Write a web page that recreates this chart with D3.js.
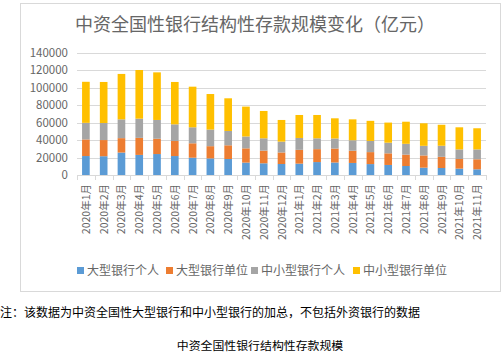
<!DOCTYPE html>
<html><head><meta charset="utf-8">
<script src="https://cdn.jsdelivr.net/npm/d3@7"></script>
<style>
body{margin:0;background:#fff;}
svg text{font-family:"Noto Sans CJK SC","Noto Sans",sans-serif;}
</style></head>
<body><svg id="c" width="504" height="356"></svg>
<script>
const categories = ["2020年1月","2020年2月","2020年3月","2020年4月","2020年5月","2020年6月","2020年7月","2020年8月","2020年9月","2020年10月","2020年11月","2020年12月","2021年1月","2021年2月","2021年3月","2021年4月","2021年5月","2021年6月","2021年7月","2021年8月","2021年9月","2021年10月","2021年11月"];
const seriesNames = ["大型银行个人","大型银行单位","中小型银行个人","中小型银行单位"];
const largePersonal = [21700,21500,25700,23000,24000,21700,19800,19000,18300,14200,13400,12600,13000,14800,14300,13800,12500,11500,10300,8400,8000,7300,6500];
const largeCorporate = [19000,18500,16500,19500,17500,17200,16500,14000,15700,16300,14500,13200,15800,14800,16000,14000,13700,13300,13000,14000,12800,11000,11500];
const smallPersonal = [19000,19500,21500,22000,21500,19100,18300,19000,16400,13600,14100,12400,13600,12400,11500,12000,12800,12200,12400,11000,12700,11000,11300];
const smallCorporate = [47000,47000,52000,55700,54500,48500,46500,40700,37400,34200,31300,24800,26300,26700,23100,23900,23000,23000,25300,25800,24000,25300,24200];
const yTicks = [0,20000,40000,60000,80000,100000,120000,140000];
const colors = ["#5B9BD5","#ED7D31","#A5A5A5","#FFC000"];

const svg = d3.select("#c");
svg.append("rect").attr("x",20.5).attr("y",3.5).attr("width",480).attr("height",288)
  .attr("fill","#fff").attr("stroke","#D9D9D9");

svg.append("text").attr("x",255).attr("y",31).attr("text-anchor","middle")
  .attr("font-size",18).attr("fill","#666").text("中资全国性银行结构性存款规模变化（亿元）");

const x = d3.scaleBand().domain(categories).range([77,486]).paddingInner(0.57).paddingOuter(0.285);
const y = d3.scaleLinear().domain([0,140000]).range([175,52.7]);

svg.append("g").selectAll("line").data(yTicks.slice(1)).join("line")
  .attr("x1",77).attr("x2",486).attr("y1",d=>Math.round(y(d))+0.5).attr("y2",d=>Math.round(y(d))+0.5)
  .attr("stroke","#D9D9D9");

svg.append("g").selectAll("text").data(yTicks).join("text")
  .attr("x",68).attr("y",d=>y(d)+4).attr("text-anchor","end")
  .attr("font-size",11.5).attr("fill","#666").text(d=>d);

const rows = categories.map((c,i)=>({cat:c,s0:largePersonal[i],s1:largeCorporate[i],s2:smallPersonal[i],s3:smallCorporate[i]}));
const stack = d3.stack().keys(["s0","s1","s2","s3"])(rows);
svg.append("g").selectAll("g").data(stack).join("g").attr("fill",(d,i)=>colors[i])
  .selectAll("rect").data(d=>d).join("rect")
  .attr("x",d=>x(d.data.cat)).attr("width",x.bandwidth())
  .attr("y",d=>y(d[1])).attr("height",d=>y(d[0])-y(d[1]));

const xAxis = svg.append("g").attr("transform","translate(0,175)");
xAxis.append("line").attr("x1",77).attr("x2",486).attr("y1",0.5).attr("y2",0.5).attr("stroke","#D9D9D9");
const step = x.step();
xAxis.selectAll("line.t").data(d3.range(categories.length+1)).join("line").attr("class","t")
  .attr("x1",i=>Math.round(77+i*step)+0.5).attr("x2",i=>Math.round(77+i*step)+0.5)
  .attr("y1",0).attr("y2",5).attr("stroke","#D9D9D9");
xAxis.selectAll("text").data(categories).join("text")
  .attr("transform",d=>`translate(${x(d)+x.bandwidth()/2+4},9) rotate(-90)`)
  .attr("text-anchor","end").attr("font-size",10.5).attr("fill","#666").text(d=>d);

const legX = [77,166,251,353];
const lg = svg.append("g").selectAll("g").data(seriesNames).join("g")
  .attr("transform",(d,i)=>`translate(${legX[i]},271)`);
lg.append("rect").attr("x",0).attr("y",-4).attr("width",7).attr("height",7).attr("fill",(d,i)=>colors[i]);
lg.append("text").attr("x",10).attr("y",4).attr("font-size",12).attr("fill","#666").text(d=>d);

svg.append("text").attr("x",0).attr("y",317).attr("font-size",12).attr("fill","#000")
  .text("注：该数据为中资全国性大型银行和中小型银行的加总，不包括外资银行的数据");
svg.append("text").attr("x",260).attr("y",350).attr("text-anchor","middle").attr("font-size",11.9).attr("fill","#000")
  .text("中资全国性银行结构性存款规模");
</script></body></html>
